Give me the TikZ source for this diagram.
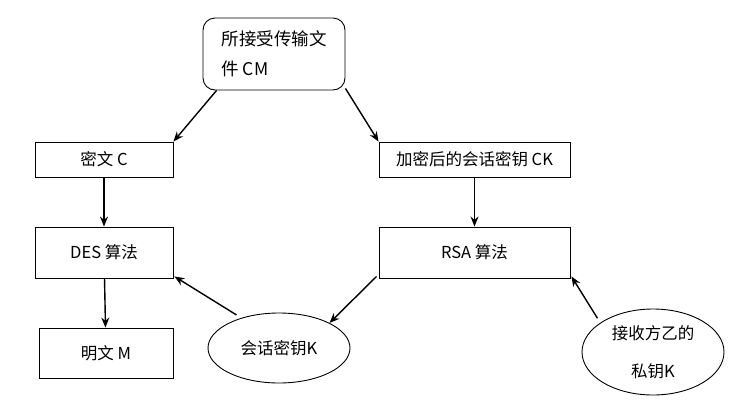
\documentclass[tikz,border=0pt]{standalone}
\usepackage{fontspec}
\setmainfont{Noto Sans CJK SC}
\usetikzlibrary{arrows.meta,shapes.geometric}
\begin{document}
\begin{tikzpicture}[x=1pt,y=-1pt,
  box/.style={draw,line width=0.9pt,inner sep=0pt,font=\fontsize{16.5}{20}\selectfont},
  oval/.style={draw,ellipse,line width=0.9pt,inner sep=0pt,font=\fontsize{16.5}{20}\selectfont},
  arr/.style={line width=1.4pt,-{Stealth[length=10pt,width=8pt]}}]
\useasboundingbox (0,0) rectangle (734,408);
\node[box,rounded corners=12pt,minimum width=142pt,minimum height=72pt,align=left,font=\fontsize{17.5}{30}\selectfont] (top) at (274,54) {所接受传输文\\件 CM};
\node[box,minimum width=138pt,minimum height=35pt] (c) at (104,159.5) {密文 C};
\node[box,minimum width=191pt,minimum height=35pt] (ck) at (474.5,159.5) {加密后的会话密钥 CK};
\node[box,minimum width=138pt,minimum height=51pt] (des) at (104,252.5) {DES 算法};
\node[box,minimum width=191pt,minimum height=51pt] (rsa) at (474.5,252.5) {RSA 算法};
\node[box,minimum width=134pt,minimum height=50pt] (m) at (106,353) {明文 M};
\node[oval,minimum width=142pt,minimum height=70pt] (k) at (279,348) {会话密钥K};
\node[oval,minimum width=142pt,minimum height=86pt,align=center] (pk) at (653,352) {接收方乙的\\[18pt]私钥K};
\draw[arr] (top.south west) ++(14,0) -- (c.north east);
\draw[arr] (top.south east) ++(0,-2) -- (ck.north west);
\draw[arr] (c) -- (des);
\draw[arr] (ck) -- (rsa);
\draw[arr] (des) -- (m);
\draw[arr] (k.north west) ++(8,-8) -- ([xshift=1pt,yshift=2pt]des.south east);
\draw[arr] ([xshift=-2pt,yshift=2pt]rsa.south west) -- (k.north east);
\draw[arr] (pk.north west) ++(-5,-3) -- ([xshift=1pt,yshift=2pt]rsa.south east);
\end{tikzpicture}
\end{document}
